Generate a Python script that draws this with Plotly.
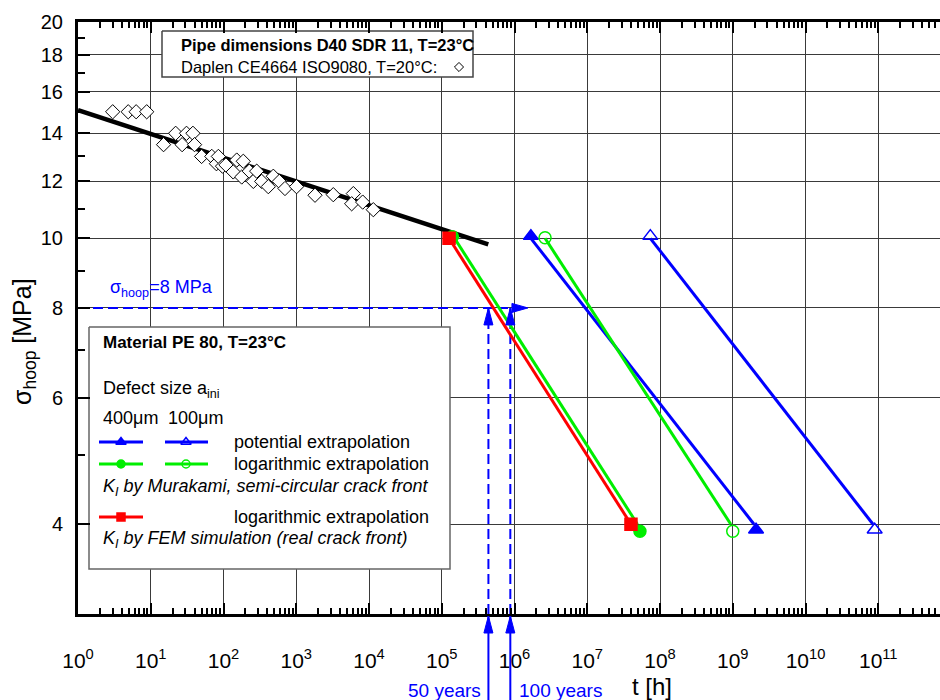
import numpy as np
import plotly.graph_objects as go

# ---------------- data ----------------
# Daplen CE4664 ISO9080, T=20°C (open diamonds)
diam_t = [3.0, 4.9, 6.3, 8.8, 15, 22, 27, 31, 38, 40, 50, 69, 80, 85, 97, 108, 136, 152,
          178, 187, 226, 257, 286, 335, 413, 484, 585, 700, 1010, 1810, 3230, 6090, 5780,
          8190, 11460]
diam_s = [15.0, 15.0, 15.0, 15.0, 13.5, 14.0, 13.5, 14.0, 14.0, 13.5, 13.0, 13.0, 12.7, 13.0,
          12.6, 12.65, 12.37, 12.85, 12.17, 12.8, 12.4, 12.0, 12.4, 12.0, 11.8, 12.2, 12.0,
          11.73, 11.8, 11.48, 11.5, 11.54, 11.17, 11.23, 10.96]
# regression line through the ISO9080 data
fit_t = [1.0, 4.36e5]
fit_s = [15.08, 9.81]

# extrapolations (line end points) and marker positions
red_line_t = [1.26e5, 3.99e7]
red_line_s = [10.0, 4.0]
red_mark_t = [1.26e5, 3.99e7]
red_mark_s = [10.0, 4.0]

gf_line_t = [1.50e5, 4.9e7]
gf_line_s = [10.0, 4.0]
gf_mark_t = [1.40e5, 5.3e7]
gf_mark_s = [10.05, 3.91]

go_line_t = [2.63e6, 9.4e8]
go_line_s = [10.0, 4.0]
go_mark_t = [2.63e6, 1.0e9]
go_mark_s = [10.02, 3.91]

bf_line_t = [1.68e6, 1.96e9]
bf_line_s = [10.0, 4.0]
bf_mark_t = [1.68e6, 2.09e9]
bf_mark_s = [10.07, 3.93]

bo_line_t = [7.36e7, 8.47e10]
bo_line_s = [10.0, 4.0]
bo_mark_t = [7.36e7, 8.93e10]
bo_mark_s = [10.07, 3.93]

# reference stress and lifetimes
sigma_ref = 8.0
hours_per_year = 8760
years = [50, 100]
hline_end_t = 1.0e6

x_tick_exps = list(range(0, 12))
y_tick_vals = [4, 6, 8, 10, 12, 14, 16, 18, 20]
y_minor_vals = [5, 7, 9, 11, 13, 15, 17, 19]

# ---------------- layout constants ----------------
W, H = 940, 700
L, R, T, B = 78, 0, 22, 86
PW, PH = W - L - R, H - T - B
XR = [0.0, (940 - 78) / 72.75]
YR = [np.log10(3.0), np.log10(20.0)]
FONT = "Liberation Sans, Arial, sans-serif"
BLUE = "#0000ff"
GREEN = "#00ee00"
RED = "#ff0000"


def PX(x):
    return (x - L) / PW


def PY(y):
    return (T + PH - y) / PH


def dx(px):  # page pixel -> data x
    return 10 ** (XR[0] + PX(px) * (XR[1] - XR[0]))


def dy(py):  # page pixel -> data y
    return 10 ** (YR[0] + PY(py) * (YR[1] - YR[0]))


fig = go.Figure()

# legend boxes as filled traces (above grid lines)
def box(x0, y0, x1, y1, color="#444"):
    fig.add_trace(go.Scatter(x=[dx(x0), dx(x1), dx(x1), dx(x0), dx(x0)],
                             y=[dy(y0), dy(y0), dy(y1), dy(y1), dy(y0)],
                             mode="lines", fill="toself", fillcolor="white",
                             line=dict(color=color, width=1.5), showlegend=False,
                             hoverinfo="skip"))

box(162, 31, 473, 77)
box(89, 327, 450, 569, "#666")

# regression line + data
fig.add_trace(go.Scatter(x=fit_t, y=fit_s, mode="lines",
                         line=dict(color="black", width=4.5), showlegend=False))
fig.add_trace(go.Scatter(x=diam_t, y=diam_s, mode="markers",
                         marker=dict(symbol="diamond", size=11, color="white",
                                     line=dict(color="black", width=1)),
                         showlegend=False))

# reference stress dashed line
ref_t = [h * hours_per_year for h in years]
fig.add_trace(go.Scatter(x=[1.0, hline_end_t], y=[sigma_ref, sigma_ref], mode="lines",
                         line=dict(color=BLUE, width=2, dash="10px,5px"), showlegend=False))
for t in ref_t:
    fig.add_trace(go.Scatter(x=[t, t], y=[10 ** YR[0], sigma_ref], mode="lines",
                             line=dict(color=BLUE, width=2, dash="10px,5px"),
                             showlegend=False))

def series(lt, ls, mt, ms, color, symbol, size, width=3):
    fig.add_trace(go.Scatter(x=lt, y=ls, mode="lines", line=dict(color=color, width=width),
                             showlegend=False))
    fig.add_trace(go.Scatter(x=mt, y=ms, mode="markers",
                             marker=dict(symbol=symbol, size=size, color=color,
                                         line=dict(color=color, width=1.5)),
                             showlegend=False, cliponaxis=False))

series(bo_line_t, bo_line_s, bo_mark_t, bo_mark_s, BLUE, "triangle-up-open", 13)
series(bf_line_t, bf_line_s, bf_mark_t, bf_mark_s, BLUE, "triangle-up", 13)
series(go_line_t, go_line_s, go_mark_t, go_mark_s, GREEN, "circle-open", 12)
series(gf_line_t, gf_line_s, gf_mark_t, gf_mark_s, GREEN, "circle", 12)
series(red_line_t, red_line_s, red_mark_t, red_mark_s, RED, "square", 12)

shapes = []
annotations = []

def text(x, y, s, size=18, color="black", anchor="left", angle=0):
    annotations.append(dict(xref="paper", yref="paper", x=PX(x), y=PY(y), text=s,
                            showarrow=False, xanchor=anchor, yanchor="middle",
                            textangle=angle,
                            font=dict(family=FONT, size=size, color=color)))

# box 1
text(179, 45, "<b>Pipe dimensions D40 SDR 11, T=23°C</b>", 16.5)
text(179, 67, "Daplen CE4664 ISO9080, T=20°C:", 16.5)
fig.add_trace(go.Scatter(x=[dx(459)], y=[dy(67)], mode="markers",
                         marker=dict(symbol="diamond", size=7, color="white",
                                     line=dict(color="black", width=1)), showlegend=False))

# box 2
text(101, 342, "<b>Material PE 80, T=23°C</b>", 17)
text(101, 389, "Defect size a<sub>ini</sub>", 18)
text(101, 418, "400μm", 18)
text(166, 418, "100μm", 18)
text(232, 442, "potential extrapolation", 18)
text(232, 464, "logarithmic extrapolation", 18)
text(101, 487, "<i>K<sub>I</sub> by Murakami, semi-circular crack front</i>", 18)
text(232, 517, "logarithmic extrapolation", 18)
text(101, 539, "<i>K<sub>I</sub> by FEM simulation (real crack front)</i>", 18)

def sample(x0, x1, xm, y, color, symbol, size):
    fig.add_trace(go.Scatter(x=[dx(x0), dx(x1)], y=[dy(y), dy(y)], mode="lines",
                             line=dict(color=color, width=3), showlegend=False))
    fig.add_trace(go.Scatter(x=[dx(xm)], y=[dy(y)], mode="markers",
                             marker=dict(symbol=symbol, size=size, color=color,
                                         line=dict(color=color, width=1.5)),
                             showlegend=False))

sample(99, 143, 121, 442, BLUE, "triangle-up", 9)
sample(165, 208, 186, 442, BLUE, "triangle-up-open", 9)
sample(99, 143, 121, 464, GREEN, "circle", 8)
sample(165, 208, 186, 464, GREEN, "circle-open", 8)
sample(99, 143, 121, 517, RED, "square", 8)

# sigma label
text(108, 288, "σ<sub>hoop</sub>=8 MPa", 18, BLUE)

# arrow heads (pixel sized paths anchored at data points)
shapes.append(dict(type="path", xref="x", yref="y", xsizemode="pixel", ysizemode="pixel",
                   xanchor=hline_end_t * 1.53, yanchor=sigma_ref,
                   path="M0,0 L-16,4.5 L-16,-4.5 Z", fillcolor=BLUE,
                   line=dict(color=BLUE, width=1), layer="above"))
for t in ref_t:
    shapes.append(dict(type="path", xref="x", yref="y", xsizemode="pixel",
                       ysizemode="pixel", xanchor=t, yanchor=sigma_ref,
                       path="M0,0 L-4.5,-17 L4.5,-17 Z", fillcolor=BLUE,
                       line=dict(color=BLUE, width=1), layer="above"))
    # arrows below the axis
    shapes.append(dict(type="line", xref="x", yref="paper", x0=t, x1=t,
                       y0=PY(616), y1=PY(702), line=dict(color=BLUE, width=2)))
    shapes.append(dict(type="path", xref="x", yref="paper", xsizemode="pixel",
                       ysizemode="pixel", xanchor=t, yanchor=PY(616),
                       path="M0,0 L-4.5,-17 L4.5,-17 Z", fillcolor=BLUE,
                       line=dict(color=BLUE, width=1)))

annotations.append(dict(xref="x", yref="paper", x=np.log10(ref_t[0]), y=PY(690),
                        text="50 years", showarrow=False, xanchor="right", xshift=-5,
                        yanchor="middle", font=dict(family=FONT, size=19, color=BLUE)))
annotations.append(dict(xref="x", yref="paper", x=np.log10(ref_t[1]), y=PY(690),
                        text="100 years", showarrow=False, xanchor="left", xshift=7,
                        yanchor="middle", font=dict(family=FONT, size=19, color=BLUE)))

# axis titles
text(24, 342, "σ<sub>hoop</sub> [MPa]", 25, "black", "center", -90)
text(652, 686, "t [h]", 24, "black", "center")

x_minor = [k * 10 ** d for d in range(0, 12) for k in range(2, 10)]

fig.update_layout(
    width=W, height=H,
    margin=dict(l=L, r=R, t=T, b=B, pad=0),
    paper_bgcolor="white", plot_bgcolor="white",
    font=dict(family=FONT, size=20, color="black"),
    showlegend=False,
    shapes=shapes,
    annotations=annotations,
    xaxis=dict(type="log", range=XR, showline=True, linecolor="black", linewidth=3,
               mirror="ticks", ticks="inside", ticklen=11, tickwidth=2, tickcolor="black",
               tickmode="array", tickvals=[10 ** e for e in x_tick_exps],
               ticktext=[f"10<sup>{e}</sup>" for e in x_tick_exps],
               tickfont=dict(family=FONT, size=21), ticklabelstandoff=26,
               showgrid=True, gridcolor="#3a3a3a", gridwidth=1, zeroline=False,
               minor=dict(tickmode="array", tickvals=x_minor, ticks="inside", ticklen=6,
                          tickwidth=2, tickcolor="black", showgrid=False)),
    yaxis=dict(type="log", range=YR, showline=True, linecolor="black", linewidth=3,
               mirror=False, ticks="inside", ticklen=12, tickwidth=2, tickcolor="black",
               tickmode="array", tickvals=y_tick_vals,
               ticktext=[str(v) for v in y_tick_vals],
               tickfont=dict(family=FONT, size=20), ticklabelstandoff=8,
               showgrid=True, gridcolor="#3a3a3a", gridwidth=1, zeroline=False,
               minor=dict(tickmode="array", tickvals=y_minor_vals, ticks="inside",
                          ticklen=7, tickwidth=2, tickcolor="black", showgrid=False)),
)

fig.write_html("out.html")
